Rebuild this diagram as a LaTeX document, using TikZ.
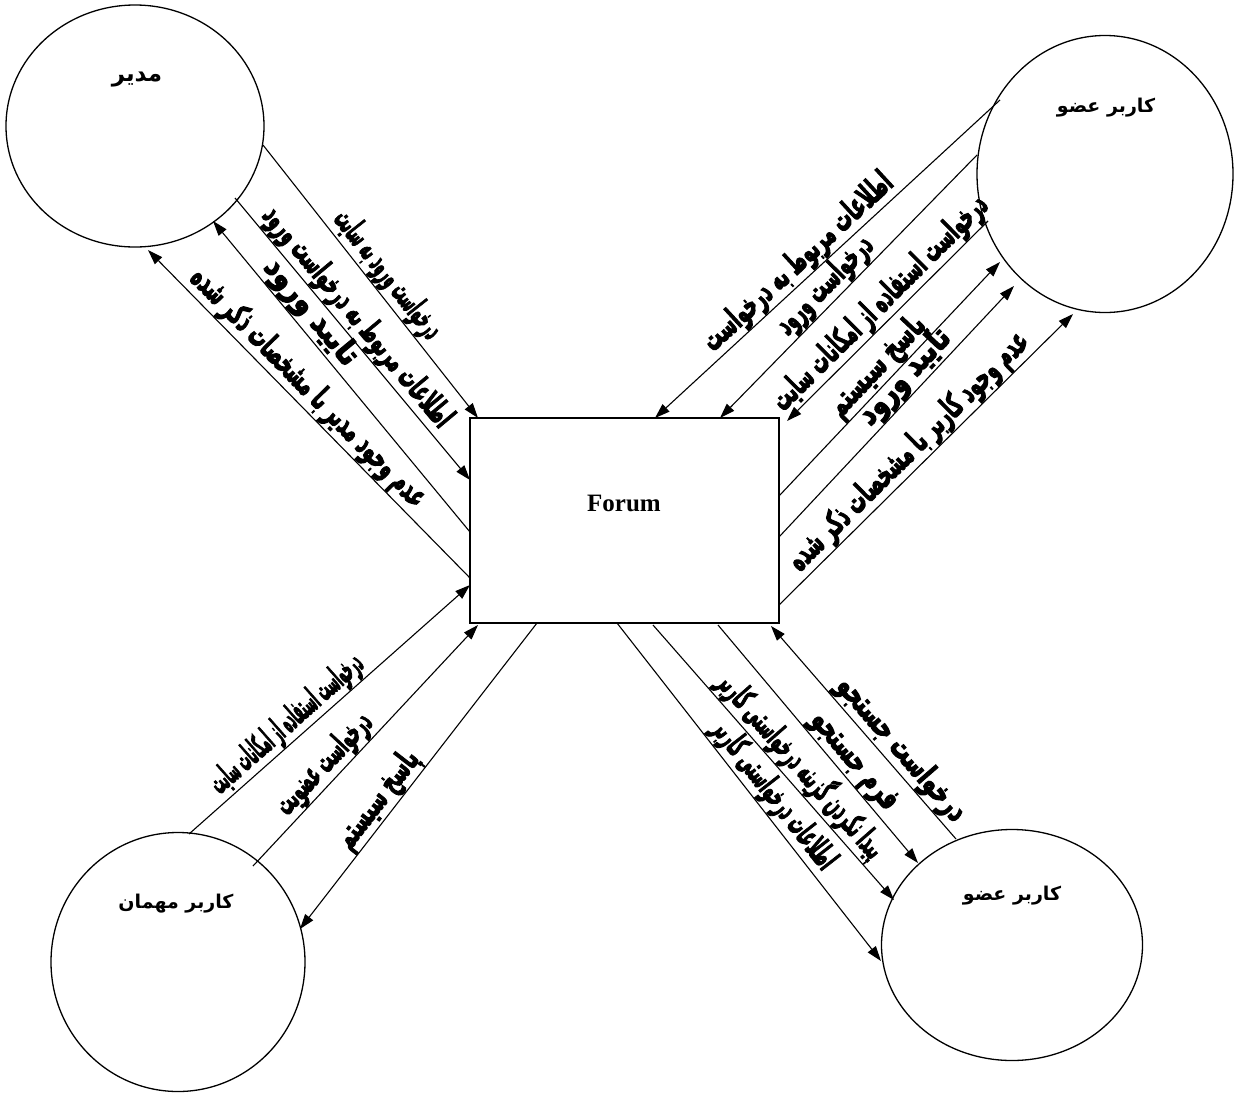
\documentclass[tikz,border=0pt]{standalone}
\usepackage{fontspec}
\usepackage{graphicx}
\usetikzlibrary{arrows.meta,shapes.geometric}
\setmainfont{Liberation Serif}
\newfontfamily\arabicfont[Script=Arabic]{DejaVu Sans}
\newfontfamily\arabicheavy[Script=Arabic, FakeBold=4]{DejaVu Sans Bold}
\TeXXeTstate=1
\newsavebox\labbox
\newcommand\fa[2]{\sbox\labbox{\arabicheavy\fontsize{32}{37}\selectfont #2}\pgfmathsetmacro\labsx{#1/(\the\wd\labbox)}\scalebox{\labsx}[1]{\usebox\labbox}}
\tikzset{
  ent/.style={draw, ellipse, line width=1.3pt, inner sep=0pt},
  proc/.style={draw, rectangle, line width=1.3pt, minimum width=309pt, minimum height=205pt},
  entname/.style={font=\arabicfont\bfseries\fontsize{19}{22}\selectfont},
  flow/.style={line width=1.1pt},
  toend/.style={-{Triangle[length=15pt,width=10pt]}},
  tostart/.style={{Triangle[length=15pt,width=10pt]}-},
  lab/.style={sloped, above, inner sep=0.5pt},
}
\begin{document}
\begin{tikzpicture}[x=1pt,y=-1pt]
\useasboundingbox (0,0) rectangle (1235,1093);
% entities
\node[ent, minimum width=258pt, minimum height=242pt] (admin) at (135,126) {};
\node[ent, minimum width=256pt, minimum height=277pt] (member) at (1105,174) {};
\node[ent, minimum width=254pt, minimum height=259pt] (guest) at (178,962) {};
\node[ent, minimum width=261pt, minimum height=231pt] (member2) at (1012,945) {};
\node[proc] (forum) at (624.5,520.5) {};
\node[font=\bfseries\fontsize{25}{30}\selectfont] (forumtxt) at (624,503) {Forum};
\node[entname, font=\arabicfont\bfseries\fontsize{23}{26}\selectfont] (adminname) at (137,80) {\beginR مدیر\endR};
\node[entname] (membername) at (1106,108) {\beginR کاربر عضو\endR};
\node[entname] (guestname) at (176,904) {\beginR کاربر مهمان\endR};
\node[entname] (member2name) at (1012,896) {\beginR کاربر عضو\endR};
% endpoints
\coordinate (tl1s) at (263,145); \coordinate (tl1e) at (478,418);
\coordinate (tl2s) at (235,198); \coordinate (tl2e) at (470,480);
\coordinate (tl3s) at (213,221); \coordinate (tl3e) at (470,532);
\coordinate (tl4s) at (148,250); \coordinate (tl4e) at (470,578);
\coordinate (tras) at (1000,100); \coordinate (trae) at (655,418);
\coordinate (trbs) at (977,155); \coordinate (trbe) at (720,418);
\coordinate (trcs) at (988,221); \coordinate (trce) at (787,421);
\coordinate (trds) at (779,496); \coordinate (trde) at (1000,262);
\coordinate (tres) at (779,537); \coordinate (tree) at (1014,286);
\coordinate (trfs) at (779,605); \coordinate (trfe) at (1073,314);
\coordinate (blas) at (189,834); \coordinate (blae) at (470,585);
\coordinate (blbs) at (253,866); \coordinate (blbe) at (478,625);
\coordinate (blcs) at (537,623); \coordinate (blce) at (300,929);
\coordinate (bras) at (617,623); \coordinate (brae) at (881,961);
\coordinate (brbs) at (653,625); \coordinate (brbe) at (894,900);
\coordinate (brcs) at (718,625); \coordinate (brce) at (918,863);
\coordinate (brds) at (956,839); \coordinate (brde) at (771,626);
% top-left flows
\draw[flow, toend] (tl1s) -- node[lab, pos=0.515] (ltl1) {\fa{155}{\beginR درخواست ورود به سایت\endR}} (tl1e);
\draw[flow, toend] (tl2s) -- node[lab, pos=0.4625] (ltl2) {\fa{278}{\beginR اطلاعات مربوط به درخواست ورود\endR}} (tl2e);
\draw[flow, tostart] (tl3s) -- node[lab, pos=0.329] (ltl3) {\fa{130}{\beginR تایید ورود\endR}} (tl3e);
\draw[flow, tostart] (tl4s) -- node[lab, pos=0.458] (ltl4) {\fa{322}{\beginR عدم وجود مدیر با مشخصات ذکر شده\endR}} (tl4e);
% top-right flows
\draw[flow, toend] (tras) -- node[lab, pos=0.551] (ltra) {\fa{247}{\beginR اطلاعات مربوط به درخواست\endR}} (trae);
\draw[flow, toend] (trbs) -- node[lab, pos=0.543] (ltrb) {\fa{125}{\beginR درخواست ورود\endR}} (trbe);
\draw[flow, toend] (trcs) -- node[lab, pos=0.474] (ltrc) {\fa{291}{\beginR درخواست استفاده از امکانات سایت\endR}} (trce);
\draw[flow, toend] (trds) -- node[lab, pos=0.502] (ltrd) {\fa{127}{\beginR پاسخ سیستم\endR}} (trde);
\draw[flow, toend] (tres) -- node[lab, pos=0.59] (ltre) {\fa{120}{\beginR تایید ورود\endR}} (tree);
\draw[flow, toend] (trfs) -- node[lab, pos=0.484] (ltrf) {\fa{325}{\beginR عدم وجود کاربر با مشخصات ذکر شده\endR}} (trfe);
% bottom-left flows
\draw[flow, toend] (blas) -- node[lab, pos=0.389] (lbla) {\fa{194}{\beginR درخواست استفاده از امکانات سایت\endR}} (blae);
\draw[flow, toend] (blbs) -- node[lab, pos=0.373] (lblb) {\fa{127}{\beginR درخواست عضویت\endR}} (blbe);
\draw[flow, toend] (blcs) -- node[lab, pos=0.613] (lblc) {\fa{116}{\beginR پاسخ سیستم\endR}} (blce);
% bottom-right flows
\draw[flow, toend] (bras) -- node[lab, pos=0.541] (lbra) {\fa{181}{\beginR اطلاعات درخواستی کاربر\endR}} (brae);
\draw[flow, toend] (brbs) -- node[lab, pos=0.555] (lbrb) {\fa{236}{\beginR پیدا نکردن گزینه درخواستی کاربر\endR}} (brbe);
\draw[flow, toend] (brcs) -- node[lab, pos=0.617] (lbrc) {\fa{119}{\beginR فرم جستجو\endR}} (brce);
\draw[flow, toend] (brds) -- node[lab, pos=0.367] (lbrd) {\fa{181}{\beginR درخواست جستجو\endR}} (brde);
\end{tikzpicture}
\end{document}
